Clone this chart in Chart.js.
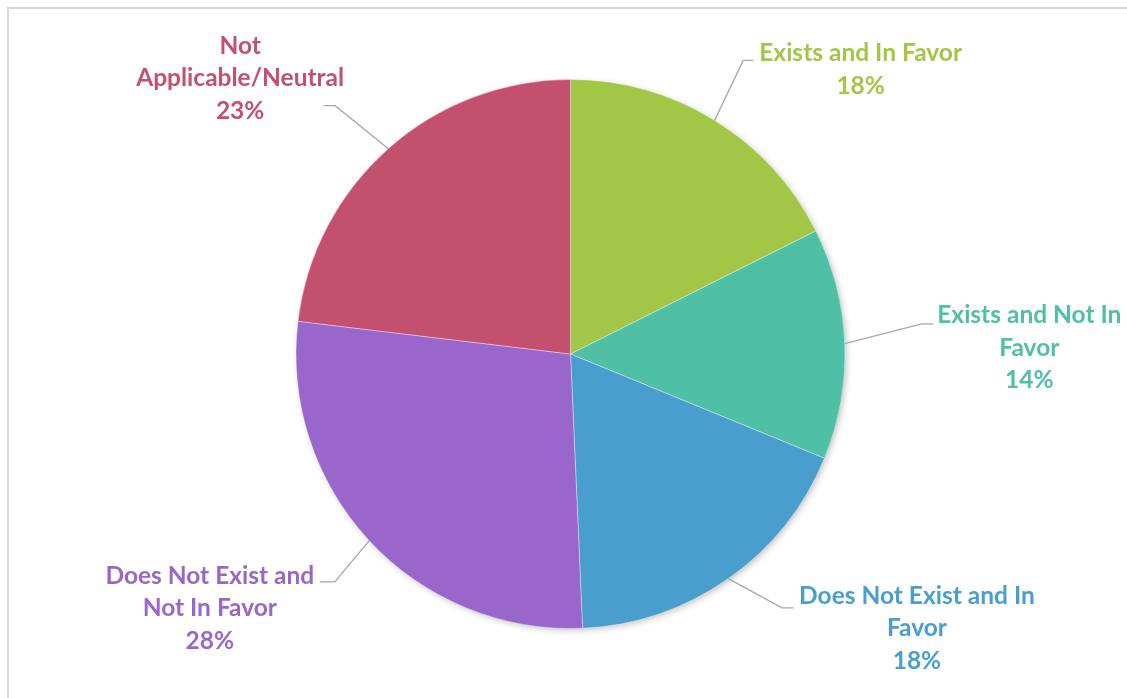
<!DOCTYPE html>
<html><head><meta charset="utf-8">
<script src="https://cdn.jsdelivr.net/npm/chart.js@4.4.1/dist/chart.umd.min.js"></script>
<style>
html,body{margin:0;padding:0;background:#fff;}
#wrap{position:relative;width:1127px;height:698px;overflow:hidden;}
#frame{position:absolute;left:7px;top:7px;width:1300px;height:900px;border:2px solid #d9d9d9;box-sizing:border-box;}
#box{position:absolute;left:0;top:0;width:1127px;height:698px;}
</style></head><body>
<div id="wrap"><div id="frame"></div><div id="box"><canvas id="c"></canvas></div></div>
<script>
const categories = ["Exists and In Favor", "Exists and Not In Favor", "Does Not Exist and In Favor", "Does Not Exist and Not In Favor", "Not Applicable/Neutral"];
const values = [17.6, 13.6, 18.1, 27.6, 23.1];
const colors = ["#A2C646", "#4FBFA5", "#4A9ECE", "#9966CB", "#C4506F"];

// label layout (leader elbow offset from slice edge, horizontal run, text offset from line end)
const labelLayout = [
  {elbow:[28.5,-60], run:10.3, text:[107.2,0.7]},
  {elbow:[77,-19.7], run:11.6, text:[95.9,-0.6]},
  {elbow:[53.6,29.3], run:11.7, text:[123.3,-4]},
  {elbow:[-34.4,41.3], run:-15, text:[-110,1.7]},
  {elbow:[-53.2,-43], run:-11.6, text:[-83.4,-52]}
];
const FONT = "bold 24.5px Lato";
const LINE_H = 32.5;
const WRAP_W = 238;

function wrap(ctx, text, maxW){
  const words = text.split(" "); const lines = []; let cur = "";
  for (const w of words){
    const t = cur ? cur + " " + w : w;
    if (cur && ctx.measureText(t).width > maxW){ lines.push(cur); cur = w; } else cur = t;
  }
  if (cur) lines.push(cur);
  return lines;
}

const shadowPlugin = {
  id:"shadow",
  beforeDatasetsDraw(chart){
    const arc = chart.getDatasetMeta(0).data[0]; if(!arc) return;
    const {x,y,outerRadius} = arc.getProps(["x","y","outerRadius"], true);
    const ctx = chart.ctx; ctx.save();
    ctx.shadowColor = "rgba(0,0,0,0.28)"; ctx.shadowBlur = 7; ctx.shadowOffsetX = 2; ctx.shadowOffsetY = 2;
    ctx.beginPath(); ctx.arc(x,y,outerRadius-1,0,Math.PI*2); ctx.fillStyle="#ffffff"; ctx.fill();
    ctx.restore();
  }
};

const labelPlugin = {
  id:"outLabels",
  afterDatasetsDraw(chart){
    const ctx = chart.ctx; const meta = chart.getDatasetMeta(0);
    const total = values.reduce((a,b)=>a+b,0);
    ctx.save(); ctx.font = FONT;
    meta.data.forEach((arc,i)=>{
      const p = arc.getProps(["x","y","startAngle","endAngle","outerRadius"], true);
      const mid = (p.startAngle+p.endAngle)/2;
      const px = p.x + Math.cos(mid)*p.outerRadius, py = p.y + Math.sin(mid)*p.outerRadius;
      const L = labelLayout[i];
      const ex = px + L.elbow[0], ey = py + L.elbow[1];
      const hx = ex + L.run, hy = ey;
      ctx.beginPath(); ctx.moveTo(px,py); ctx.lineTo(ex,ey); ctx.lineTo(hx,hy);
      ctx.strokeStyle = "#A6A6A6"; ctx.lineWidth = 1.3; ctx.stroke();
      const lines = wrap(ctx, categories[i], WRAP_W);
      lines.push(Math.round(values[i]/total*100) + "%");
      ctx.fillStyle = colors[i]; ctx.textAlign = "center"; ctx.textBaseline = "alphabetic";
      lines.forEach((ln,k)=> ctx.fillText(ln, hx + L.text[0], hy + L.text[1] + k*LINE_H));
    });
    ctx.restore();
  }
};

new Chart(document.getElementById("c"), {
  type:"pie",
  data:{ labels:categories, datasets:[{ data:values, backgroundColor:colors, borderColor:"rgba(255,255,255,0.35)", borderWidth:1 }]},
  options:{
    responsive:true, maintainAspectRatio:false, animation:false,
    layout:{ padding:{left:14, right:0, top:79, bottom:69} },
    plugins:{ legend:{display:false}, tooltip:{enabled:false} }
  },
  plugins:[shadowPlugin, labelPlugin]
});
</script>
</body></html>
